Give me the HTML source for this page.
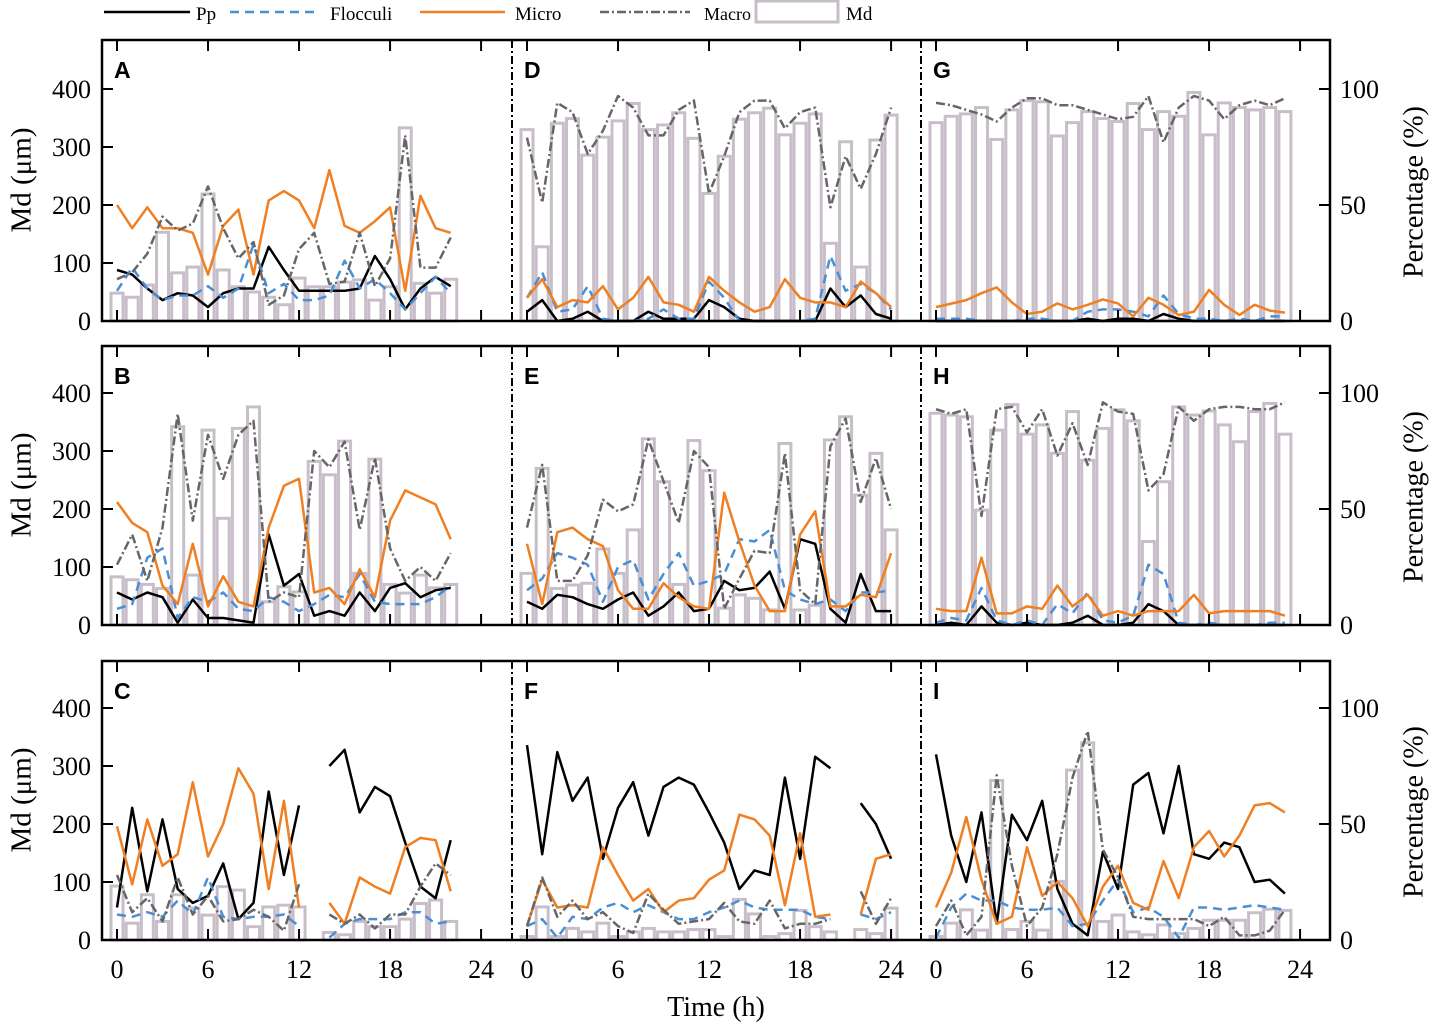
<!DOCTYPE html>
<html><head><meta charset="utf-8"><style>
body{margin:0;background:#fff;}
svg{display:block;font-family:"Liberation Serif",serif;}
.lbl{font-family:"Liberation Sans",sans-serif;font-weight:bold;font-size:23px;}
</style></head><body>
<svg id="chart" width="1433" height="1023" viewBox="0 0 1433 1023" xmlns="http://www.w3.org/2000/svg">
<g id="legend">
<line x1="104" y1="12" x2="190" y2="12" stroke="#000" stroke-width="2.5"/><text x="196" y="20" font-size="19">Pp</text>
<line x1="230" y1="12" x2="318" y2="12" stroke="#4a8fd6" stroke-width="2.5" stroke-dasharray="9,6"/><text x="330" y="20" font-size="19">Flocculi</text>
<line x1="420" y1="12" x2="505" y2="12" stroke="#f07f22" stroke-width="2.5"/><text x="515" y="20" font-size="19">Micro</text>
<line x1="600" y1="12" x2="690" y2="12" stroke="#666" stroke-width="2.5" stroke-dasharray="9,3,2,3"/><text x="704" y="20" font-size="18">Macro</text>
<rect x="756" y="1" width="82" height="21" fill="#fff" stroke="#c8bec9" stroke-width="3"/><text x="846" y="20" font-size="19">Md</text>
</g>
<g id="plots"></g>
<text x="24" y="180" font-size="29" transform="rotate(-90 24 180)" text-anchor="middle" dominant-baseline="middle">Md (μm)</text>
<text x="24" y="485" font-size="29" transform="rotate(-90 24 485)" text-anchor="middle" dominant-baseline="middle">Md (μm)</text>
<text x="24" y="800" font-size="29" transform="rotate(-90 24 800)" text-anchor="middle" dominant-baseline="middle">Md (μm)</text>
<text x="1416" y="192" font-size="28" transform="rotate(-90 1416 192)" text-anchor="middle" dominant-baseline="middle">Percentage (%)</text>
<text x="1416" y="497" font-size="28" transform="rotate(-90 1416 497)" text-anchor="middle" dominant-baseline="middle">Percentage (%)</text>
<text x="1416" y="812" font-size="28" transform="rotate(-90 1416 812)" text-anchor="middle" dominant-baseline="middle">Percentage (%)</text>
<text x="716" y="1016" font-size="28" text-anchor="middle">Time (h)</text>
</svg>
<script>
const N=null;
const hourTicks=[0,6,12,18,24];
const mdTicks=[0,100,200,300,400];
const pctTicks=[0,50,100];
const panelLabels=["A","D","G","B","E","H","C","F","I"];
// Panel A
const mdA=[48,41,62,153,83,93,219,88,59,50,41,28,74,59,59,67,71,36,59,333,65,48,72];
const ppA=[22,20,14,9,12,11,6,12,14,14,32,22,13,13,13,13,14,28,18,5,14,19,15];
const flA=[13,23,14,9,11,11,15,10,14,33,12,16,9,9,11,26,14,18,12,5,12,19,12];
const miA=[50,40,49,40,40,38,20,41,48,20,52,56,52,40,65,41,38,43,49,13,54,40,38];
const maA=[18,21,29,45,39,42,58,40,27,34,7,11,31,38,16,17,38,15,27,80,23,23,36];
// Panel D
const mdD=[330,128,341,349,286,317,345,375,330,338,359,315,220,284,348,359,367,321,341,357,134,309,93,312,355];
const ppD=[4,9,0,1,4,0,0,0,4,1,1,1,9,6,1,0,0,0,0,0,14,6,11,3,1];
const flD=[10,21,4,5,15,1,0,0,1,5,1,1,17,10,0,0,0,0,0,1,28,13,16,12,5];
const miD=[10,18,6,9,8,15,5,10,19,8,7,4,19,13,8,4,6,18,10,8,8,6,17,12,6];
const maD=[79,51,94,90,72,82,97,92,80,80,91,95,55,71,90,95,95,83,90,92,49,71,57,72,92];
// Panel G
const mdG=[342,353,357,368,313,364,380,378,319,342,361,349,344,375,330,361,353,394,321,376,368,364,368,361];
const ppG=[0,0,0,0,0,0,0,0,0,0,1,0,1,1,0,3,1,0,0,0,0,0,0,0];
const flG=[1,1,1,0,0,0,1,1,0,0,4,5,5,4,2,11,3,1,1,0,1,0,2,2];
const miG=[6,7.5,9,12,14.5,8,3,4,7.6,5,7,9.3,7.6,2,10,7,2.6,4,13.4,7,2.6,7,4.5,3.6];
const maG=[94,93,91,89,86,92,96,96,93,93,91,89,87,88,97,77,92,97,95,87,93,95,93,96];
// Panel B
const mdB=[83,78,70,63,342,86,336,184,339,376,40,66,57,282,259,317,89,286,70,55,86,64,70];
const ppB=[14,11,14,12,1,11,3,3,2,1,39,17,22,4,6,4,14,6,16,18,12,15,16];
const flB=[7,9,29,33,3,12,10,14,7,6,12,10,6,9,13,12,22,10,9,9,9,12,17];
const miB=[53,44,40,17,9,35,8,21,10,8,42,60,63,14,16,9,24,12,45,58,55,52,37];
const maB=[26,39,19,42,91,45,82,63,82,88,10,14,12,75,68,79,41,72,33,19,25,19,31];
// Panel E
const mdE=[89,270,63,69,72,131,89,164,321,247,70,318,266,29,52,46,26,313,26,34,319,359,224,296,164];
const ppE=[10,7,13,12,9,7,11,14,4,8,14,6,7,19,15,16,23,7,37,35,7,1,22,6,6];
const flE=[15,20,31,29,26,10,25,28,11,22,31,17,19,22,37,36,41,15,11,9,11,6,14,14,15];
const miE=[35,9,40,42,37,34,15,7,7,18,12,8,7,57,36,17,6,6,39,49,8,8,13,12,31];
const maE=[42,69,19,19,30,54,49,52,80,62,44,75,68,7,20,32,31,74,15,9,77,89,53,72,50];
// Panel H
const mdH=[365,362,359,198,336,380,329,345,296,368,284,339,371,352,144,247,376,362,369,345,316,368,382,329];
const ppH=[0,1,0,8,1,0,1,0,0,1,4,0,0,1,9,6,0,0,0,0,0,0,0,0];
const flH=[1,3,2,16,2,0,2,0,9,5,14,2,1,4,26,22,1,0,1,0,0,0,1,1];
const miH=[7,6,6,29,5,5,8,7,17,8,13,4,6,4,6,6,6,13,5,6,6,6,6,4];
const maH=[93,91,93,47,93,94,83,93,73,87,69,96,92,91,58,65,94,88,93,94,94,93,93,96];
// Panel C
const mdC=[93,29,78,32,78,55,43,92,86,23,57,60,57,N,13,9,32,23,23,36,63,69,32];
const ppC=[14,57,21,52,22,16,19,33,9,16,64,28,58,N,75,82,55,66,62,42,23,18,43];
const flC=[11,10,12,10,17,11,27,10,9,10,10,11,6,N,1,7,9,9,9,12,12,7,8];
const miC=[49,24,52,32,37,68,36,50,74,63,22,60,14,N,16,7,27,23,20,40,44,43,21];
const maC=[28,12,18,8,27,11,19,8,9,13,10,4,24,N,11,7,11,5,11,11,23,33,28];
// Panel F
const mdF=[6,57,6,20,14,29,6,14,20,14,14,18,18,6,70,45,6,11,51,23,14,N,18,11,55];
const ppF=[84,37,81,60,70,35,57,68,45,66,70,67,55,42,22,30,28,70,35,79,74,N,59,50,35];
const flF=[6,9,1,10,9,14,16,12,15,12,9,9,12,14,17,14,13,13,13,10,9,N,11,9,12];
const miF=[6,26,14,15,14,40,28,17,22,12,17,18,26,30,54,52,45,15,46,10,11,N,11,35,37];
const maF=[6,27,10,17,9,12,6,3,20,13,7,8,9,16,8,7,17,5,7,7,9,N,21,7,18];
// Panel I
const mdI=[6,29,52,17,275,18,32,17,101,293,340,32,43,14,9,26,11,20,34,34,34,47,53,51];
const ppI=[80,45,25,55,7,54,43,60,22,7,2,38,22,67,72,46,75,37,35,42,40,25,26,20];
const flI=[1,14,20,17,17,14,13,13,14,6,7,17,26,12,14,10,1,14,14,13,14,15,14,13];
const miI=[14,29,53,26,7,10,40,19,25,18,6,23,32,16,13,34,18,40,47,36,45,58,59,55];
const maI=[6,17,2,10,71,32,6,14,37,70,90,39,27,10,9,9,9,9,6,10,2,2,4,13];

const NS="http://www.w3.org/2000/svg";
const root=document.getElementById('plots');
const rowTop=[40,346,661], rowBot=[321,625,940];
const secX0=[117,527,936], pxPerH=15.17;
const boxL=102, boxR=1330, dividers=[512,921];
function mk(tag,attrs,parent){const e=document.createElementNS(NS,tag);for(const k in attrs)e.setAttribute(k,attrs[k]);(parent||root).appendChild(e);return e;}
function xs(sec,h){return secX0[sec]+h*pxPerH;}
function yMd(row,v){return rowBot[row]-v*0.58;}
function yPct(row,v){return rowBot[row]-v*2.32;}

const panels=[
 [0,0,mdA,ppA,flA,miA,maA],[0,1,mdD,ppD,flD,miD,maD],[0,2,mdG,ppG,flG,miG,maG],
 [1,0,mdB,ppB,flB,miB,maB],[1,1,mdE,ppE,flE,miE,maE],[1,2,mdH,ppH,flH,miH,maH],
 [2,0,mdC,ppC,flC,miC,maC],[2,1,mdF,ppF,flF,miF,maF],[2,2,mdI,ppI,flI,miI,maI]];
const styles=[["pp","#000",""],["flocculi","#4a8fd6","9,6"],["micro","#f07f22",""],["macro","#666","9,3,2,3"]];

panels.forEach((p,pi)=>{
 const [row,sec,md]=p;
 const g=mk('g',{});
 
 
 md.forEach((v,h)=>{ if(v===null)return;
  const yt=yMd(row,v);
  const r=mk('rect',{x:xs(sec,h)-6,y:yt,width:12,height:rowBot[row]-yt,fill:'#fff',stroke:'#c8bec9','stroke-width':3},g);
  
  
 });
 styles.forEach((st,si)=>{
  const arr=p[3+si]; let d=''; let pen=false;
  arr.forEach((v,h)=>{ if(v===null){pen=false;return;}
   d+=(pen?'L':'M')+xs(sec,h).toFixed(1)+' '+yPct(row,v).toFixed(1)+' '; pen=true;});
  const l=mk('path',{d:d,fill:'none',stroke:st[1],'stroke-width':2.5,'stroke-dasharray':st[2]||'none','stroke-linejoin':'round'},g);
  
  
 });
 const t=mk('text',{x:secX0[sec]-3,y:rowTop[row]+38,class:'lbl'},g);
 t.textContent=panelLabels[pi];
 
 
});

for(let row=0;row<3;row++){
 const ax=mk('g',{});
 
 
 dividers.forEach(x=>mk('line',{x1:x,y1:rowTop[row],x2:x,y2:rowBot[row],stroke:'#000','stroke-width':2,'stroke-dasharray':'8,3,2,3'},ax));
 for(let sec=0;sec<3;sec++) hourTicks.forEach(h=>{const x=xs(sec,h);
  mk('line',{x1:x,y1:rowTop[row],x2:x,y2:rowTop[row]+11,stroke:'#000','stroke-width':2},ax);
  mk('line',{x1:x,y1:rowBot[row],x2:x,y2:rowBot[row]-11,stroke:'#000','stroke-width':2},ax);
  if(row===2){const tl=mk('text',{x:x,y:978,'font-size':26,'text-anchor':'middle'},ax);tl.textContent=h;
   
   }
 });
 mdTicks.forEach(v=>{const y=yMd(row,v);
  mk('line',{x1:boxL,y1:y,x2:boxL+11,y2:y,stroke:'#000','stroke-width':2},ax);
  const tl=mk('text',{x:91,y:y+9,'font-size':26,'text-anchor':'end'},ax);tl.textContent=v;
  
  
 });
 pctTicks.forEach(v=>{const y=yPct(row,v);
  mk('line',{x1:boxR-11,y1:y,x2:boxR,y2:y,stroke:'#000','stroke-width':2},ax);
  const tl=mk('text',{x:1340,y:y+9,'font-size':26},ax);tl.textContent=v;
  
  
 });
 mk('rect',{x:boxL,y:rowTop[row],width:boxR-boxL,height:rowBot[row]-rowTop[row],fill:'none',stroke:'#000','stroke-width':2.5},ax);
}
</script>
</body></html>
